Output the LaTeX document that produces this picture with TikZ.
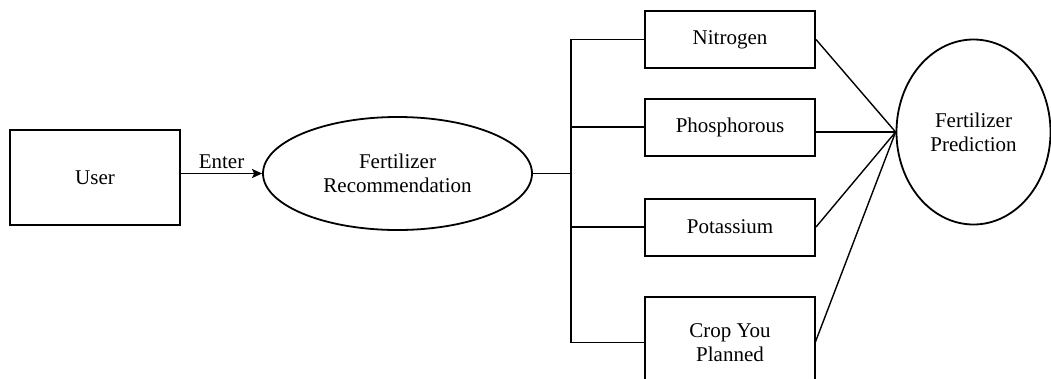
\documentclass[tikz,border=0pt]{standalone}
\usepackage{fontspec}
\setmainfont{Liberation Serif}
\usetikzlibrary{shapes.geometric,arrows.meta}
\begin{document}
\begin{tikzpicture}[x=1pt,y=-1pt,
  every node/.style={font=\fontsize{21}{24}\selectfont, align=center, inner sep=0pt},
  conn/.style={line width=1.8pt, draw=black},
  thin conn/.style={line width=1.4pt, draw=black},
  boxnode/.style={draw, line width=2pt, minimum width=170pt},
  ell/.style={ellipse, draw, line width=1.8pt}]
\useasboundingbox (0,0) rectangle (1051,378);
\clip (0,0) rectangle (1051,378);
\fill[white] (0,0) rectangle (1051,378);
\node[boxnode, minimum height=95pt] (user) at (95,177.5) {User};
\node[ell, minimum width=269pt, minimum height=113pt] (rec) at (397.5,173.5) {Fertilizer\\Recommendation};
\node[boxnode, minimum height=57pt] (n) at (730,39.5) {Nitrogen};
\node[boxnode, minimum height=57pt] (p) at (730,127) {Phosphorous};
\node[boxnode, minimum height=57pt] (k) at (730,227) {Potassium};
\node[minimum width=170pt, minimum height=91pt] (c) at (730,342.5) {Crop You\\Planned};
\draw[line width=2pt] ([yshift=-20pt]c.south west) -- (c.north west) -- (c.north east) -- ([yshift=-20pt]c.south east);
\node[ell, minimum width=154pt, minimum height=185pt] (pred) at (973.5,132) {Fertilizer\\Prediction};
\coordinate (bus) at (571,173.5);
\draw[conn, -{Stealth[length=10pt,width=9pt,inset=2pt]}] (rec.west -| user.east) -- node[above=4pt] {Enter} (rec.west);
\draw[conn] (rec.east) -- (bus);
\draw[conn] (n.west) -- (n.west -| bus) -- (c.west -| bus) -- (c.west);
\draw[conn] (p.west) -- (p.west -| bus);
\draw[conn] (k.west) -- (k.west -| bus);
\draw[thin conn] (n.east) -- (pred.west);
\draw[thin conn] (p.east |- pred.west) -- (pred.west);
\draw[thin conn] (k.east) -- (pred.west);
\draw[thin conn] (c.east) -- (pred.west);
\end{tikzpicture}
\end{document}
